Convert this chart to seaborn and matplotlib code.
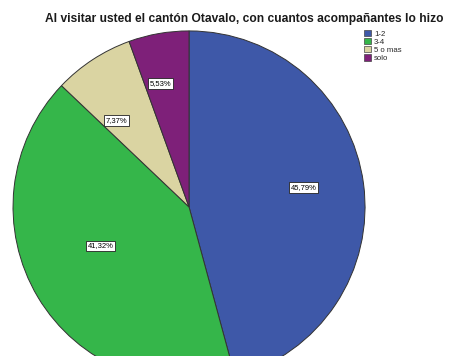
import numpy as np
import matplotlib
matplotlib.use("Agg")
import matplotlib.pyplot as plt
import seaborn as sns

categories = ["1-2", "3-4", "5 o mas", "solo"]
percentages = [45.79, 41.32, 7.37, 5.53]
pct_labels = ["45,79%", "41,32%", "7,37%", "5,53%"]
title = "Al visitar usted el cantón Otavalo, con cuantos acompañantes lo hizo"

sns.set_style("white")
plt.rcParams["font.family"] = ["Liberation Sans", "DejaVu Sans"]
colors = sns.color_palette(["#3E58A8", "#35B64A", "#DAD4A2", "#7E2079"])

fig = plt.figure(figsize=(4.7, 3.56), dpi=100)
fig.patch.set_facecolor("white")
ax = fig.add_axes([0.0277, -0.0758, 0.749, 0.989])

wedges, _ = ax.pie(percentages, colors=colors, startangle=90, counterclock=False,
                   radius=1.0, wedgeprops=dict(edgecolor="#333333", linewidth=0.7))
ax.set_xlim(-1, 1)
ax.set_ylim(-1, 1)
ax.set_aspect("equal")
ax.axis("off")

# percentage boxes inside each slice
label_dist = [0.66, 0.55, 0.64, 0.72]
label_shift = [2, -7, 7, 3]
for w, lab, d, s in zip(wedges, pct_labels, label_dist, label_shift):
    ang = np.deg2rad((w.theta1 + w.theta2) / 2 + s)
    ax.text(d * np.cos(ang), d * np.sin(ang), lab, ha="center", va="center",
            fontsize=5.5, color="black",
            bbox=dict(boxstyle="square,pad=0.25", facecolor="white",
                      edgecolor="#222222", linewidth=0.6))

fig.text(0.519, 0.948, title, ha="center", va="center", fontsize=8.65,
         fontweight="bold", color="#1a1a1a")

handles = [plt.Rectangle((0, 0), 1, 1, facecolor=c, edgecolor="#444444", linewidth=0.5)
           for c in colors]
fig.legend(handles, categories, loc="upper left", bbox_to_anchor=(0.774, 0.916),
           frameon=False, fontsize=5.6, handlelength=0.95, handleheight=0.85,
           handletextpad=0.35, labelspacing=0.05, borderaxespad=0,
           borderpad=0)

fig.savefig("out.png", dpi=100, facecolor="white")
